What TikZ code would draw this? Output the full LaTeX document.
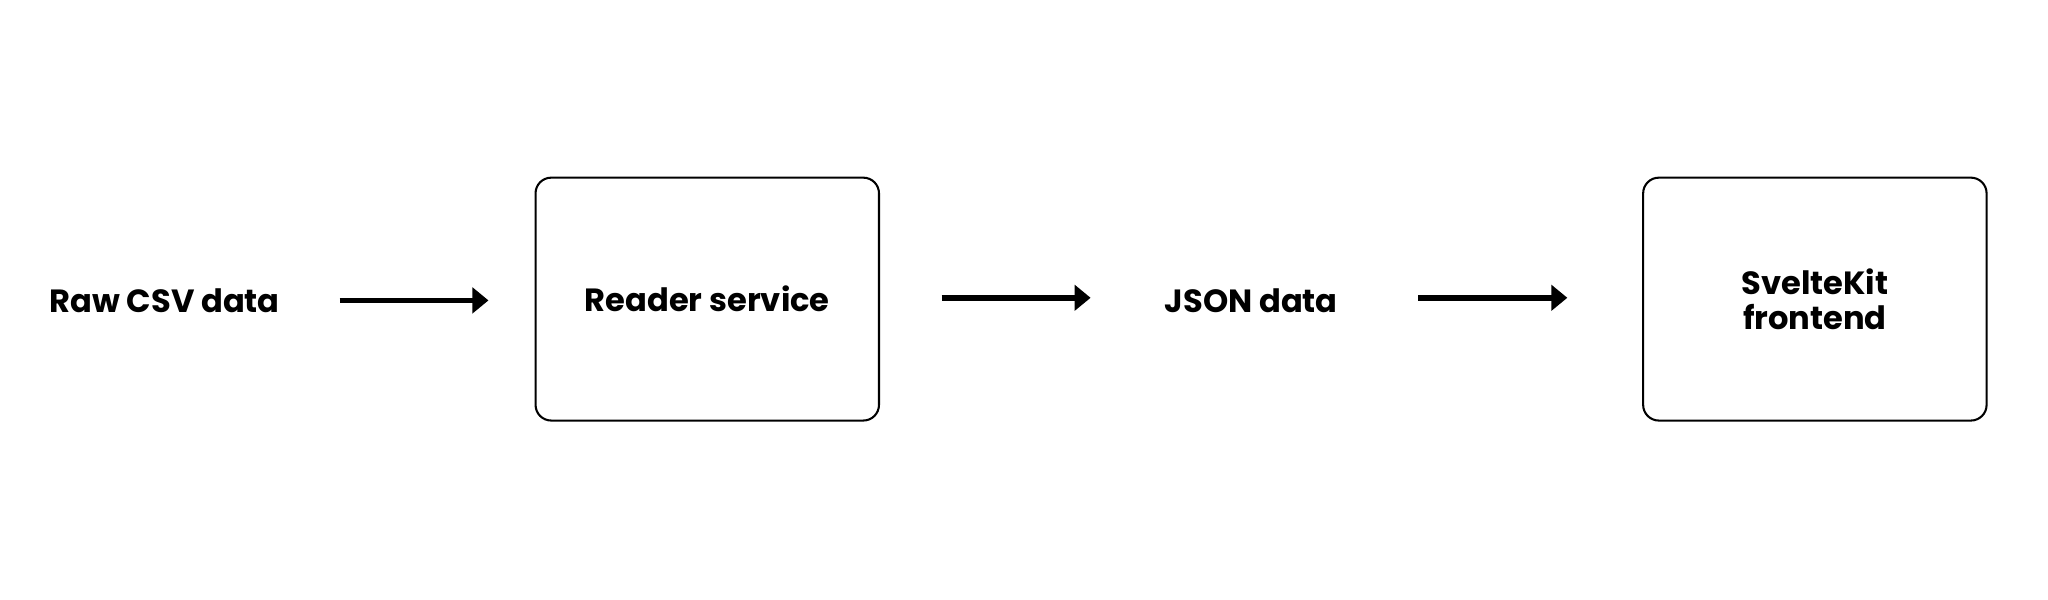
\documentclass[tikz,border=0pt]{standalone}
\usepackage{fontspec}
\setmainfont{Poppins}
\usetikzlibrary{arrows.meta}
\begin{document}
\begin{tikzpicture}[x=0.02cm,y=-0.02cm,
  lbl/.style={font=\bfseries\fontsize{14}{15}\selectfont, align=center},
  box/.style={draw, line width=0.9pt, rounded corners=0.24cm, minimum width=5.26cm, minimum height=3.72cm, lbl},
  flow/.style={line width=2.4pt, -{Triangle[length=7pt,width=11pt]}}]
\useasboundingbox (0,0) rectangle (1568,459);
\node[lbl] (raw) at (126,230) {Raw CSV data};
\node[box] (reader) at (541.5,229) {Reader service};
\node[lbl] (json) at (958,230) {JSON data};
\node[box] (svelte) at (1389.5,229) {SvelteKit\\frontend};
\coordinate (a1) at (260,230); \coordinate (b1) at (374,230);
\coordinate (a2) at (721,228); \coordinate (b2) at (835,228);
\coordinate (a3) at (1086,228); \coordinate (b3) at (1200,228);
\draw[flow] (a1) -- (b1);
\draw[flow] (a2) -- (b2);
\draw[flow] (a3) -- (b3);
\end{tikzpicture}
\end{document}
